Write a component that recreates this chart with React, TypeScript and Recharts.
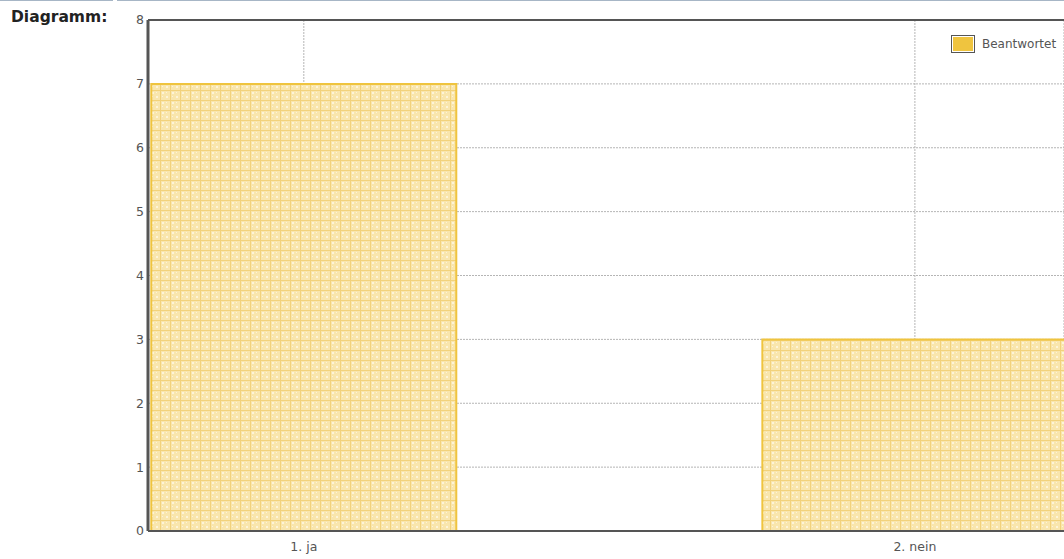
import React from 'react';
import {
  BarChart,
  Bar,
  XAxis,
  YAxis,
  CartesianGrid,
  ReferenceLine,
} from 'recharts';

const categories = ['1. ja', '2. nein'];
const answered = [7, 3];
const yTicks = [0, 1, 2, 3, 4, 5, 6, 7, 8];
const seriesName = 'Beantwortet';

const data = categories.map((c, i) => ({ pos: i + 1, label: c, value: answered[i] }));

const FONT = '"DejaVu Sans", Verdana, sans-serif';

function LegendBox() {
  return (
    <div
      style={{
        position: 'absolute',
        left: 951,
        top: 35,
        display: 'flex',
        alignItems: 'center',
        fontFamily: FONT,
        fontSize: 12,
        color: '#555',
      }}
    >
      <div style={{ width: 20, height: 14, border: '1px solid #555', padding: 1, background: '#fff' }}>
        <div style={{ width: '100%', height: '100%', background: '#efc43f' }} />
      </div>
      <span style={{ marginLeft: 7 }}>{seriesName}</span>
    </div>
  );
}

export default function App() {
  return (
    <div style={{ position: 'absolute', left: 0, top: 0, width: 1064, height: 559, overflow: 'hidden', background: '#fff' }}>
      <div style={{ position: 'absolute', left: 0, top: 0, width: 113, height: 1, background: '#a7b6c6' }} />
      <div style={{ position: 'absolute', left: 117, top: 0, width: 947, height: 1, background: '#a7b6c6' }} />
      <div style={{ position: 'absolute', left: 11, top: 8, fontFamily: FONT, fontWeight: 'bold', fontSize: 15.5, color: '#222' }}>
        Diagramm:
      </div>
      <BarChart width={1064} height={559} data={data} margin={{ top: 20, right: 0, bottom: 0, left: 0 }}>
        <defs>
          <pattern id="hatch" patternUnits="userSpaceOnUse" width="10" height="10">
            <rect width="10" height="10" fill="#f9e6ad" />
            <rect x="2" y="2" width="2" height="2" fill="#fdf4d8" />
            <rect x="6" y="6" width="2" height="2" fill="#fdf4d8" />
            <rect x="6" y="2" width="1" height="1" fill="#fdf4d8" />
            <rect x="2" y="6" width="1" height="1" fill="#fdf4d8" />
            <rect x="0" y="0" width="10" height="1" fill="#f2d27c" />
            <rect x="0" y="0" width="1" height="10" fill="#f2d27c" />
          </pattern>
        </defs>
        <CartesianGrid stroke="#b5b5b5" strokeDasharray="2 1" />
        <XAxis
          dataKey="pos"
          type="number"
          domain={[0.745, 2.244]}
          ticks={[1, 2]}
          tickFormatter={(v) => categories[v - 1]}
          height={28}
          tickSize={0}
          tickMargin={11}
          axisLine={{ stroke: '#555', strokeWidth: 2 }}
          tick={{ fill: '#555', fontSize: 12.5, fontFamily: FONT }}
        />
        <YAxis
          domain={[0, 8]}
          ticks={yTicks}
          width={148}
          tickSize={0}
          tickMargin={4}
          axisLine={{ stroke: '#555', strokeWidth: 3 }}
          tick={{ fill: '#555', fontSize: 12.5, fontFamily: FONT }}
        />
        <ReferenceLine y={8} stroke="#555" strokeWidth={2} />
        <Bar
          dataKey="value"
          name={seriesName}
          barSize={305}
          fill="url(#hatch)"
          stroke="#efc43f"
          strokeWidth={2}
          isAnimationActive={false}
        />
      </BarChart>
      <LegendBox />
    </div>
  );
}
